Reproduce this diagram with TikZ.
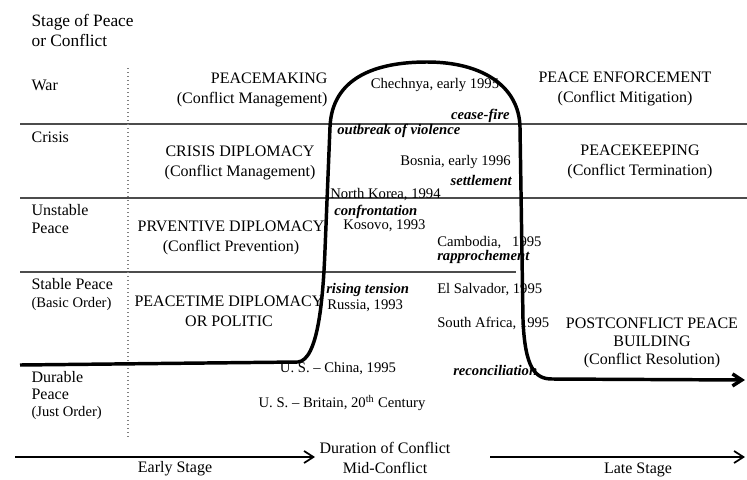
\documentclass[tikz,border=0pt,12pt]{standalone}
\usepackage{fontspec}
\setmainfont{Liberation Serif}
\usetikzlibrary{arrows.meta}

\begin{document}
\begin{tikzpicture}
[x=0.75pt,y=-0.75pt,>={Straight Barb[length=7pt,width=9pt]},
stage/.style = {anchor=west, align=left, font=\fontsize{12}{13.5}\selectfont},
tool/.style = {align=center, font=\fontsize{12}{15}\selectfont},
case/.style = {inner sep=0pt, font=\fontsize{11}{13}\selectfont},
move/.style = {inner sep=0pt, font=\fontsize{11}{13}\bfseries\itshape\selectfont},
band/.style = {black!70, line width=1pt},
path/.style = {line width=2.6pt, line join=round},]

\useasboundingbox (0,0) rectangle (747,479);

% stages down the left
\node (title) at (26,30)[stage, font=\fontsize{13}{15}\selectfont] {Stage of Peace\\or Conflict};
\node (war) at (26,85)[stage] {War};
\node (crisis) at (26,137)[stage] {Crisis};
\node (unstable) at (26,219)[stage] {Unstable\\Peace};
\node (stable) at (26,294)[stage] {Stable Peace\\{\small (Basic Order)}};
\node (durable) at (26,395)[stage, font=\fontsize{12}{12.75}\selectfont] {Durable\\Peace\\{\small (Just Order)}};

% borders between stages
\coordinate (b1l) at (20,124);
\coordinate (b1r) at (747,124);
\coordinate (b2l) at (20,198);
\coordinate (b2r) at (747,198);
\coordinate (b3l) at (20,272);
\coordinate (b3r) at (516,272);
\draw [band](b1l)--(b1r);
\draw [band](b2l)--(b2r);
\draw [band](b3l)--(b3r);

\coordinate (dtop) at (128,68);
\coordinate (dbot) at (128,438);
\draw [black!50, line width=1pt, dotted](dtop)--(dbot);

% tools
\node (pmaking) at (333,90)[tool, anchor=east, align=right] {PEACEMAKING\\(Conflict Management)};
\node (penforce) at (625,89)[tool] {PEACE ENFORCEMENT\\(Conflict Mitigation)};
\node (crisisdip) at (240,163)[tool] {CRISIS DIPLOMACY\\(Conflict Management)};
\node (pkeep) at (640,162)[tool] {PEACEKEEPING\\(Conflict Termination)};
\node (prevent) at (231,238)[tool] {PRVENTIVE DIPLOMACY\\(Conflict Prevention)};
\node (ptime) at (229,311)[tool] {PEACETIME DIPLOMACY\\OR POLITIC};
\node (postconf) at (652,343)[tool, font=\fontsize{12}{13.5}\selectfont] {POSTCONFLICT PEACE\\BUILDING\\(Conflict Resolution)};

% cases
\node (chechnya) at (435,85)[case] {Chechnya, early 1995};
\node (bosnia) at (511,162)[case, anchor=east] {Bosnia, early 1996};
\node (nkorea) at (330,195)[case, anchor=west] {North Korea, 1994};
\node (kosovo) at (343,226)[case, anchor=west] {Kosovo, 1993};
\node (cambodia) at (437,243)[case, anchor=west] {Cambodia,~~~1995};
\node (elsalv) at (437,290)[case, anchor=west] {El Salvador, 1995};
\node (russia) at (327,306)[case, anchor=west] {Russia, 1993};
\node (safrica) at (437,323)[case, anchor=west] {South Africa, 1995};
\node (uschina) at (338,369)[case] {U. S. -- China, 1995};
\node (usbritain) at (342,403)[case] {U. S. -- Britain, 20\textsuperscript{th} Century};

% moves between stages
\node (ceasefire) at (510,116)[move, anchor=east] {cease-fire};
\node (outbreak) at (337,131)[move, anchor=west] {outbreak of violence};
\node (settle) at (512,180)[move, anchor=east] {settlement};
\node (confront) at (334,212)[move, anchor=west] {confrontation};
\node (rapproch) at (437,257)[move, anchor=west] {rapprochement};
\node (rising) at (326,290)[move, anchor=west] {rising tension};
\node (reconcil) at (453,370)[move, anchor=west] {reconciliation};

% the course of a conflict
\coordinate (c0) at (20,365);
\coordinate (c1) at (298,362);
\coordinate (c2) at (330,127);
\coordinate (ctop) at (427,62);
\coordinate (c3) at (520,127);
\coordinate (c4) at (523,320);
\coordinate (c5) at (552,379);
\coordinate (cend) at (745,380);
\draw [path,->](c0)--(c1) .. controls (318,360) and (323,300) .. (325,250) -- (c2)
  .. controls (332,78) and (375,62) .. (ctop) .. controls (482,62) and (519,86) .. (c3)
  -- (c4) .. controls (525,368) and (535,379) .. (c5) -- (cend);

% time line
\coordinate (e0) at (15,457);
\coordinate (e1) at (315,457);
\coordinate (l0) at (490,457);
\coordinate (l1) at (745,457);
\draw [line width=1.3pt,->](e0)--(e1);
\draw [line width=1.3pt,->](l0)--(l1);
\node (duration) at (385,458)[tool, font=\fontsize{12}{15}\selectfont] {Duration of Conflict\\Mid-Conflict};
\node (early) at (175,469)[tool] {Early Stage};
\node (late) at (638,470)[tool] {Late Stage};

\end{tikzpicture}
\end{document}
